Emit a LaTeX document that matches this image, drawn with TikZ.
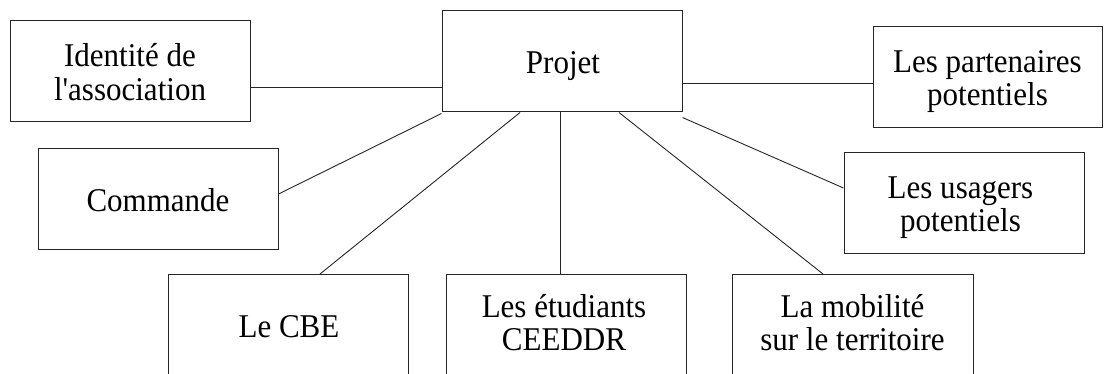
\documentclass[tikz,border=0pt]{standalone}
\usepackage{fontspec}
\newfontfamily\lserif{Liberation Serif}[FakeStretch=0.934]
\tikzset{
  box/.style={draw=black!85, line width=1pt, minimum width=240pt, minimum height=101pt,
    inner sep=0pt},
  txt/.style={anchor=base, inner sep=0pt, font=\lserif\fontsize{33.2}{33.3}\selectfont},
  link/.style={draw=black!85, line width=0.9pt}
}
\begin{document}
\begin{tikzpicture}[x=1pt,y=-1pt]
\useasboundingbox (0,0) rectangle (1104,374);
% boxes
\node[box] (ident) at (130,71.5) {};
\node[box] (proj) at (562,61.5) {};
\node[box, minimum width=229pt] (part) at (987.5,77.5) {};
\node[box] (usag) at (964,203.5) {};
\node[box] (comm) at (158,199) {};
\node[box] (cbe) at (288,325) {};
\node[box] (etud) at (566,325) {};
\node[box, minimum width=241pt] (mob) at (852.5,325) {};
% texts
\node[txt] (identA) at ([yshift=4.5pt]ident.center) {Identité de};
\node[txt] (identB) at ([yshift=-28.8pt]ident.center) {l'association};
\node[txt] (projA) at ([xshift=1pt,yshift=-12.5pt]proj.center) {Projet};
\node[txt] (partA) at ([yshift=5pt]part.center) {Les partenaires};
\node[txt] (partB) at ([yshift=-28.3pt]part.center) {potentiels};
\node[txt] (usagA) at ([xshift=-3.5pt,yshift=5pt]usag.center) {Les usagers};
\node[txt] (usagB) at ([xshift=-3.5pt,yshift=-28.3pt]usag.center) {potentiels};
\node[txt] (commA) at ([yshift=-12.5pt]comm.center) {Commande};
\node[txt] (cbeA) at ([xshift=1pt,yshift=-12.5pt]cbe.center) {Le CBE};
\node[txt] (etudA) at ([xshift=-2pt,yshift=8pt]etud.center) {Les étudiants};
\node[txt] (etudB) at ([xshift=-2pt,yshift=-25pt]etud.center) {CEEDDR};
\node[txt] (mobA) at ([yshift=8pt]mob.center) {La mobilité};
\node[txt] (mobB) at ([yshift=-25pt]mob.center) {sur le territoire};
% connectors
\draw[link] ([yshift=-15.5pt]ident.east) -- ([yshift=-15.5pt]ident.east -| proj.west);
\draw[link] ([yshift=-21.5pt]proj.east) -- ([yshift=-21.5pt]proj.east -| part.west);
\draw[link] ([yshift=-5pt]proj.south east) -- ([yshift=15.5pt]usag.west);
\draw[link] ([xshift=57pt]proj.south) -- ([xshift=-29.5pt]mob.north);
\draw[link] ([xshift=-2pt]proj.south) -- ([xshift=-6pt]etud.north);
\draw[link] ([xshift=-42pt]proj.south) -- ([xshift=32pt]cbe.north);
\draw[link] ([yshift=-1pt]proj.south west) -- ([yshift=5pt]comm.east);
\end{tikzpicture}
\end{document}
